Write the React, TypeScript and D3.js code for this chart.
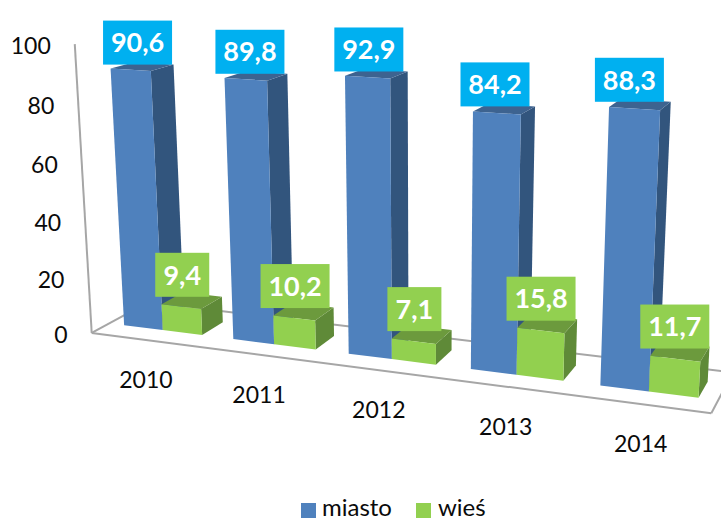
import React from "react";
import * as d3 from "d3";

const categories = ["2010", "2011", "2012", "2013", "2014"];
const miasto = [90.6, 89.8, 92.9, 84.2, 88.3];
const wies = [9.4, 10.2, 7.1, 15.8, 11.7];
const yTicks = [0, 20, 40, 60, 80, 100];
const miastoLabels = ["90,6", "89,8", "92,9", "84,2", "88,3"];
const wiesLabels = ["9,4", "10,2", "7,1", "15,8", "11,7"];

const W = 721, H = 518;
const BW = 0.36, D0 = 0.3, D1 = 0.7;
const FONT = "Lato, Carlito, sans-serif";

// calibration of the picture's perspective: [u (categories), v (0..1), d (depth)] -> pixel
const calib: number[][] = [
  [0, 0, 0, 92, 333], [5, 0, 0, 712, 414], [0, 0, 1, 147, 302], [5, 0, 1, 735, 372], [0, 1, 0, 74, 43],
  [0, 0.5, 0, 82.5, 192],
  [0.14, 0, D0, 124, 325], [0.5, 0, D0, 162, 330], [0.86, 0, D0, 204, 336],
  [1.14, 0, D0, 233, 339], [1.5, 0, D0, 273, 344], [1.86, 0, D0, 317, 349],
  [2.14, 0, D0, 348, 355], [2.5, 0, D0, 391, 359], [2.86, 0, D0, 437, 365],
  [3.14, 0, D0, 471, 369], [3.5, 0, D0, 516, 375], [3.86, 0, D0, 563, 380],
  [4.14, 0, D0, 599, 386], [4.5, 0, D0, 648, 392], [4.86, 0, D0, 699, 397],
  [0.14, 0.906, D0, 110, 69], [0.5, 0.906, D0, 152, 71], [0.5, 0.906, D1, 174, 65],
  [1.14, 0.898, D0, 224, 78], [1.5, 0.898, D0, 268, 80], [1.5, 0.898, D1, 287, 74],
  [2.14, 0.929, D0, 345, 76], [2.5, 0.929, D0, 391, 78], [2.5, 0.929, D1, 408, 72],
  [3.14, 0.842, D0, 473, 112], [3.5, 0.842, D0, 521, 115], [3.5, 0.842, D1, 534, 106],
  [4.14, 0.883, D0, 609, 107], [4.5, 0.883, D0, 661, 110], [4.5, 0.883, D1, 670, 102],
  [0.5, 0.094, D0, 162, 305], [0.86, 0.094, D0, 203, 308], [0.86, 0.094, D1, 222, 297],
  [3.5, 0.158, D0, 517, 328], [3.86, 0.158, D0, 564, 332], [3.86, 0.158, D1, 576, 319],
];

function fitProjection(rows: number[][]) {
  const n = 11;
  const A = Array.from({ length: n }, () => new Array(n + 1).fill(0));
  const add = (r: number[], t: number) => {
    for (let i = 0; i < n; i++) {
      for (let j = 0; j < n; j++) A[i][j] += r[i] * r[j];
      A[i][n] += r[i] * t;
    }
  };
  for (const [u, v, d, px, py] of rows) {
    const x = px / 100, y = py / 100;
    add([u, v, d, 1, 0, 0, 0, 0, -x * u, -x * v, -x * d], x);
    add([0, 0, 0, 0, u, v, d, 1, -y * u, -y * v, -y * d], y);
  }
  for (let c = 0; c < n; c++) {
    let p = c;
    for (let r = c + 1; r < n; r++) if (Math.abs(A[r][c]) > Math.abs(A[p][c])) p = r;
    [A[c], A[p]] = [A[p], A[c]];
    for (let r = 0; r < n; r++) {
      if (r === c) continue;
      const f = A[r][c] / A[c][c];
      for (let k = c; k <= n; k++) A[r][k] -= f * A[c][k];
    }
  }
  const s = A.map((row, i) => row[n] / row[i]);
  return (u: number, v: number, d: number): [number, number] => {
    const w = s[8] * u + s[9] * v + s[10] * d + 1;
    return [
      (100 * (s[0] * u + s[1] * v + s[2] * d + s[3])) / w,
      (100 * (s[4] * u + s[5] * v + s[6] * d + s[7])) / w,
    ];
  };
}

const project = fitProjection(calib);
const vScale = d3.scaleLinear().domain([0, 100]).range([0, 1]);
const uScale = d3.scaleBand<string>().domain(categories).range([0, 5]);
const P = (u: number, value: number, d: number) => project(u, vScale(value), d);
const line = d3.line();
const closed = (pts: [number, number][]) => line(pts) + "Z";

const COLORS = {
  blue: { front: "#4F81BD", side: "#32547D", top: "#3E6390", label: "#00B0F0" },
  green: { front: "#92D050", side: "#5F8A38", top: "#6C9A3E", label: "#92D050" },
};

function Box({ u0, u1, value, c }: { u0: number; u1: number; value: number; c: typeof COLORS.blue }) {
  return (
    <g filter="url(#soft)">
      <path fill={c.side} d={closed([P(u1, 0, D0), P(u1, value, D0), P(u1, value, D1), P(u1, 0, D1)])} />
      <path fill={c.top} d={closed([P(u0, value, D0), P(u1, value, D0), P(u1, value, D1), P(u0, value, D1)])} />
      <path fill={c.front} d={closed([P(u0, 0, D0), P(u1, 0, D0), P(u1, value, D0), P(u0, value, D0)])} />
    </g>
  );
}

function Label({ cx, bottom, text, width, fill }: { cx: number; bottom: number; text: string; width: number; fill: string }) {
  return (
    <g>
      <rect x={cx - width / 2} y={bottom - 44} width={width} height={44} fill={fill} />
      <text x={cx} y={bottom - 22} dy="0.36em" textAnchor="middle" fill="#fff" fontFamily={FONT} fontWeight={700} fontSize={27}>
        {text}
      </text>
    </g>
  );
}

export default function App() {
  const axisStroke = "#A6A6A6";
  return (
    <svg width={W} height={H} viewBox={`0 0 ${W} ${H}`} style={{ position: "absolute", left: 0, top: 0, background: "#fff" }}>
      <defs>
        <filter id="soft" x="-10%" y="-10%" width="120%" height="120%">
          <feGaussianBlur stdDeviation="0.6" />
        </filter>
      </defs>
      <g fill="none" stroke={axisStroke} strokeWidth={2} filter="url(#soft)">
        <path d={line([P(0, 0, 1), P(5, 0, 1)]) ?? ""} />
        <path d={line([P(0, 0, 1), P(0, 0, 0)]) ?? ""} />
        <path d={line([P(5, 0, 1), P(5, 0, 0)]) ?? ""} />
        <path d={line([P(0, 100, 0), P(0, 0, 0)]) ?? ""} />
        <path d={line([P(0, 0, 0), P(5, 0, 0)]) ?? ""} />
      </g>
      {categories.map((cat, i) => {
        const mid = uScale(cat)! + uScale.bandwidth() / 2;
        return (
          <g key={cat}>
            <Box u0={mid - BW} u1={mid} value={miasto[i]} c={COLORS.blue} />
            <Box u0={mid} u1={mid + BW} value={wies[i]} c={COLORS.green} />
          </g>
        );
      })}
      {categories.map((cat, i) => {
        const mid = uScale(cat)! + uScale.bandwidth() / 2;
        const blueA = P(mid - BW, miasto[i], D0), blueB = P(mid, miasto[i], D1);
        const greenA = P(mid, wies[i], D0), greenB = P(mid + BW, wies[i], D1);
        return (
          <g key={cat}>
            <Label cx={(blueA[0] + blueB[0]) / 2 - 4.5 - 1.5 * i} bottom={blueB[1]} text={miastoLabels[i]} width={69} fill={COLORS.blue.label} />
            <Label cx={(greenA[0] + greenB[0]) / 2 - 9.5 + 1.1 * i} bottom={greenB[1] + 0.5 * i} text={wiesLabels[i]} width={wiesLabels[i].length > 3 ? 69 : 54} fill={COLORS.green.label} />
          </g>
        );
      })}
      <g fontFamily={FONT} fontSize={23} fill="#0a0a0a">
        {yTicks.map((t) => {
          const [x, y] = P(0, t, 0);
          return (
            <text key={t} x={x - 24} y={y + 2} dy="0.36em" textAnchor="end">
              {t}
            </text>
          );
        })}
        {categories.map((cat) => {
          const [x, y] = P(uScale(cat)! + uScale.bandwidth() / 2, 0, 0);
          return (
            <text key={cat} x={x} y={y + 40} dy="0.36em" textAnchor="middle">
              {cat}
            </text>
          );
        })}
        <rect x={301} y={503} width={15} height={15} fill={COLORS.blue.front} />
        <text x={322} y={516} fontSize={24}>miasto</text>
        <rect x={416} y={503} width={15} height={15} fill={COLORS.green.front} />
        <text x={438} y={516} fontSize={24}>wieś</text>
      </g>
    </svg>
  );
}
